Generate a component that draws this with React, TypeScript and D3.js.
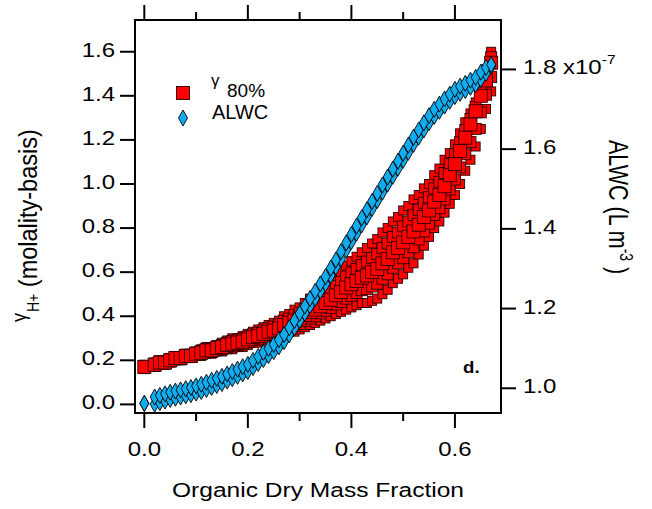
import React from "react";
import * as d3 from "d3";

// organic dry mass fraction (x) shared by every series below
const organicFrac = [
  0.0, 0.02, 0.03, 0.04, 0.05, 0.06, 0.07, 0.08, 0.09, 0.1,
  0.11, 0.12, 0.13, 0.14, 0.15, 0.16, 0.17, 0.18, 0.19, 0.2,
  0.21, 0.22, 0.23, 0.24, 0.25, 0.26, 0.27, 0.28, 0.29, 0.3,
  0.31, 0.32, 0.33, 0.34, 0.35, 0.36, 0.37, 0.38, 0.39, 0.4,
  0.41, 0.42, 0.43, 0.44, 0.45, 0.46, 0.47, 0.48, 0.49, 0.5,
  0.51, 0.52, 0.53, 0.54, 0.55, 0.56, 0.57, 0.58, 0.59, 0.6,
  0.61, 0.62, 0.63, 0.64, 0.65, 0.66, 0.67,
];

// gamma H+ at 80% RH, read across the cloud from its upper to its lower edge
const gammaUpper = [
  0.18, 0.19, 0.2, 0.2, 0.21, 0.22, 0.22, 0.23, 0.23, 0.24,
  0.25, 0.26, 0.26, 0.27, 0.28, 0.29, 0.3, 0.3, 0.31, 0.32,
  0.33, 0.34, 0.35, 0.36, 0.37, 0.38, 0.4, 0.41, 0.43, 0.44,
  0.46, 0.48, 0.49, 0.51, 0.53, 0.55, 0.58, 0.6, 0.63, 0.65,
  0.67, 0.69, 0.71, 0.73, 0.75, 0.78, 0.8, 0.83, 0.85, 0.88,
  0.9, 0.93, 0.95, 0.98, 1.0, 1.04, 1.07, 1.11, 1.14, 1.18,
  1.23, 1.28, 1.32, 1.37, 1.44, 1.52, 1.6,
];
const gammaUpperMid = [
  0.175, 0.185, 0.195, 0.195, 0.205, 0.215, 0.215, 0.225, 0.225, 0.235,
  0.243, 0.253, 0.253, 0.263, 0.27, 0.28, 0.288, 0.29, 0.298, 0.308,
  0.318, 0.325, 0.335, 0.345, 0.353, 0.363, 0.38, 0.39, 0.405, 0.415,
  0.433, 0.45, 0.46, 0.478, 0.495, 0.513, 0.538, 0.555, 0.58, 0.598,
  0.615, 0.633, 0.648, 0.665, 0.683, 0.71, 0.73, 0.76, 0.78, 0.808,
  0.83, 0.858, 0.883, 0.915, 0.94, 0.98, 1.01, 1.05, 1.09, 1.135,
  1.19, 1.245, 1.295, 1.35, 1.42, 1.495, 1.575,
];
const gammaMid = [
  0.17, 0.18, 0.19, 0.19, 0.2, 0.21, 0.21, 0.22, 0.22, 0.23,
  0.235, 0.245, 0.245, 0.255, 0.26, 0.27, 0.275, 0.28, 0.285, 0.295,
  0.305, 0.31, 0.32, 0.33, 0.335, 0.345, 0.36, 0.37, 0.38, 0.39,
  0.405, 0.42, 0.43, 0.445, 0.46, 0.475, 0.495, 0.51, 0.53, 0.545,
  0.56, 0.575, 0.585, 0.6, 0.615, 0.64, 0.66, 0.69, 0.71, 0.735,
  0.76, 0.785, 0.815, 0.85, 0.88, 0.92, 0.95, 0.99, 1.04, 1.09,
  1.15, 1.21, 1.27, 1.33, 1.4, 1.47, 1.55,
];
const gammaLowerMid = [
  0.165, 0.175, 0.185, 0.185, 0.195, 0.205, 0.205, 0.215, 0.215, 0.225,
  0.228, 0.238, 0.238, 0.248, 0.25, 0.26, 0.263, 0.27, 0.273, 0.283,
  0.293, 0.295, 0.305, 0.315, 0.318, 0.328, 0.34, 0.35, 0.355, 0.365,
  0.378, 0.39, 0.4, 0.413, 0.425, 0.438, 0.453, 0.465, 0.48, 0.493,
  0.505, 0.518, 0.523, 0.535, 0.548, 0.57, 0.59, 0.62, 0.64, 0.663,
  0.69, 0.713, 0.748, 0.785, 0.82, 0.86, 0.89, 0.93, 0.975, 1.02,
  1.075, 1.135, 1.19, 1.25, 1.325, 1.405, 1.485,
];
const gammaLower = [
  0.16, 0.17, 0.18, 0.18, 0.19, 0.2, 0.2, 0.21, 0.21, 0.22,
  0.22, 0.23, 0.23, 0.24, 0.24, 0.25, 0.25, 0.26, 0.26, 0.27,
  0.28, 0.28, 0.29, 0.3, 0.3, 0.31, 0.32, 0.33, 0.33, 0.34,
  0.35, 0.36, 0.37, 0.38, 0.39, 0.4, 0.41, 0.42, 0.43, 0.44,
  0.45, 0.46, 0.46, 0.47, 0.48, 0.5, 0.52, 0.55, 0.57, 0.59,
  0.62, 0.64, 0.68, 0.72, 0.76, 0.8, 0.83, 0.87, 0.91, 0.95,
  1.0, 1.06, 1.11, 1.17, 1.25, 1.34, 1.42,
];

// ALWC in units of 1e-7 L m^-3, two close branches
const alwcUpper = [
  0.962, 0.978, 0.982, 0.986, 0.99, 0.993, 0.996, 0.999, 1.002, 1.006,
  1.01, 1.015, 1.02, 1.025, 1.03, 1.036, 1.042, 1.048, 1.054, 1.06,
  1.07, 1.08, 1.09, 1.1, 1.11, 1.122, 1.135, 1.152, 1.17, 1.188,
  1.206, 1.225, 1.243, 1.262, 1.28, 1.301, 1.322, 1.343, 1.365, 1.386,
  1.407, 1.428, 1.448, 1.469, 1.489, 1.51, 1.53, 1.55, 1.57, 1.59,
  1.61, 1.63, 1.648, 1.666, 1.684, 1.7, 1.713, 1.726, 1.738, 1.75,
  1.758, 1.765, 1.773, 1.78, 1.793, 1.805, 1.812,
];
const alwcLower = [
  0.962, 0.96, 0.964, 0.968, 0.972, 0.975, 0.978, 0.981, 0.984, 0.988,
  0.992, 0.997, 1.002, 1.007, 1.012, 1.018, 1.024, 1.03, 1.036, 1.042,
  1.052, 1.062, 1.072, 1.082, 1.092, 1.104, 1.117, 1.134, 1.152, 1.17,
  1.188, 1.207, 1.225, 1.244, 1.262, 1.283, 1.304, 1.325, 1.347, 1.368,
  1.389, 1.41, 1.43, 1.451, 1.471, 1.492, 1.512, 1.532, 1.552, 1.572,
  1.592, 1.612, 1.63, 1.648, 1.666, 1.682, 1.695, 1.708, 1.72, 1.732,
  1.74, 1.747, 1.755, 1.762, 1.775, 1.79, 1.808,
];

const xTicks = [0, 0.2, 0.4, 0.6];
const xMinorTicks = [0.1, 0.3, 0.5];
const gammaTicks = [0, 0.2, 0.4, 0.6, 0.8, 1.0, 1.2, 1.4, 1.6];
const alwcTicks = [1.0, 1.2, 1.4, 1.6, 1.8];

const FONT = "'Liberation Sans', Arial, Helvetica, sans-serif";
const RED = "#ff0000";
const BLUE = "#12adf0";

const L = 135, R = 501, T = 20, B = 413;

const x = d3.scaleLinear().domain([-0.018, 0.689]).range([L, R]);
const yGamma = d3.scaleLinear().domain([-0.039, 1.744]).range([B, T]);
const yAlwc = d3.scaleLinear().domain([0.938, 1.924]).range([B, T]);
const fmt = d3.format(".1f");

const diamond = "M0,-8L4.5,0L0,8L-4.5,0Z";

function Squares({ ys, size }: { ys: number[]; size: number }) {
  return (
    <g>
      {ys.map((v, i) => (
        <rect
          key={i}
          x={x(organicFrac[i]) - size / 2}
          y={yGamma(v) - size / 2}
          width={size}
          height={size}
          fill={RED}
          stroke="#2a0000"
          strokeWidth={0.9}
        />
      ))}
    </g>
  );
}

function Diamonds({ ys }: { ys: number[] }) {
  return (
    <g>
      {ys.map((v, i) => (
        <path
          key={i}
          d={diamond}
          transform={`translate(${x(organicFrac[i])},${yAlwc(v)})`}
          fill={BLUE}
          stroke="#000"
          strokeWidth={0.9}
        />
      ))}
    </g>
  );
}

export default function App() {
  return (
    <svg
      width={652}
      height={509}
      style={{ position: "absolute", left: 0, top: 0, background: "#fff" }}
      fontFamily={FONT}
    >
      {/* data */}
      <Squares ys={gammaLower} size={9} />
      <Squares ys={gammaUpper} size={9} />
      <Squares ys={gammaLowerMid} size={11} />
      <Squares ys={gammaUpperMid} size={11} />
      <Squares ys={gammaMid} size={13} />
      <Diamonds ys={alwcLower} />
      <Diamonds ys={alwcUpper} />

      {/* frame */}
      <rect x={L} y={T} width={R - L} height={B - T} fill="none" stroke="#000" strokeWidth={2} />

      {/* bottom + top ticks */}
      {xTicks.map((t) => (
        <g key={"x" + t}>
          <line x1={x(t)} x2={x(t)} y1={B} y2={B + 15} stroke="#000" strokeWidth={2} />
          <line x1={x(t)} x2={x(t)} y1={T} y2={T - 15} stroke="#000" strokeWidth={2} />
          <text transform={`translate(${x(t)},456) scale(1.2,1)`} textAnchor="middle" fontSize={20}>
            {fmt(t)}
          </text>
        </g>
      ))}
      {xMinorTicks.map((t) => (
        <g key={"xm" + t}>
          <line x1={x(t)} x2={x(t)} y1={B} y2={B + 8} stroke="#000" strokeWidth={2} />
          <line x1={x(t)} x2={x(t)} y1={T} y2={T - 8} stroke="#000" strokeWidth={2} />
        </g>
      ))}

      {/* left axis */}
      {gammaTicks.map((t) => (
        <g key={"l" + t}>
          <line x1={L - 15} x2={L} y1={yGamma(t)} y2={yGamma(t)} stroke="#000" strokeWidth={2} />
          <text transform={`translate(115,${yGamma(t) + 5}) scale(1.2,1)`} textAnchor="end" fontSize={20}>
            {fmt(t)}
          </text>
        </g>
      ))}

      {/* right axis */}
      {alwcTicks.map((t, i) => (
        <g key={"r" + t}>
          <line x1={R} x2={R + 15} y1={yAlwc(t)} y2={yAlwc(t)} stroke="#000" strokeWidth={2} />
          <text transform={`translate(523,${yAlwc(t) + 5}) scale(1.2,1)`} fontSize={20}>
            {fmt(t)}
            {i === alwcTicks.length - 1 && (
              <>
                <tspan> x10</tspan>
                <tspan fontSize={13} dy={-10}>-7</tspan>
              </>
            )}
          </text>
        </g>
      ))}

      {/* axis titles */}
      <text transform="translate(318,497) scale(1.17,1)" textAnchor="middle" fontSize={21}>
        Organic Dry Mass Fraction
      </text>
      <text transform="translate(37,322) rotate(-90) scale(1,1.12)" fontSize={23.5}>
        <tspan fontSize={18} y={-10}>γ</tspan>
        <tspan fontSize={14} y={2} dx={1}>H+</tspan>
        <tspan y={0}> (molality-basis)</tspan>
      </text>
      <text transform="translate(609,140) rotate(90) scale(1,1.25)" fontSize={21.5}>
        <tspan>ALWC (L m</tspan>
        <tspan fontSize={14} y={-9}>-3</tspan>
        <tspan y={0}> )</tspan>
      </text>

      {/* legend */}
      <rect x={183 - 6.5} y={93 - 6.5} width={13} height={13} fill={RED} stroke="#2a0000" strokeWidth={0.9} />
      <text x={211} y={86} fontSize={17}>γ</text>
      <text x={227} y={97} fontSize={19}>80%</text>
      <path d={diamond} transform="translate(183,118)" fill={BLUE} stroke="#000" strokeWidth={0.9} />
      <text x={212} y={119} fontSize={20}>ALWC</text>

      <text transform="translate(463,373) scale(1.1,1)" fontSize={17} fontWeight="bold">d.</text>
    </svg>
  );
}
